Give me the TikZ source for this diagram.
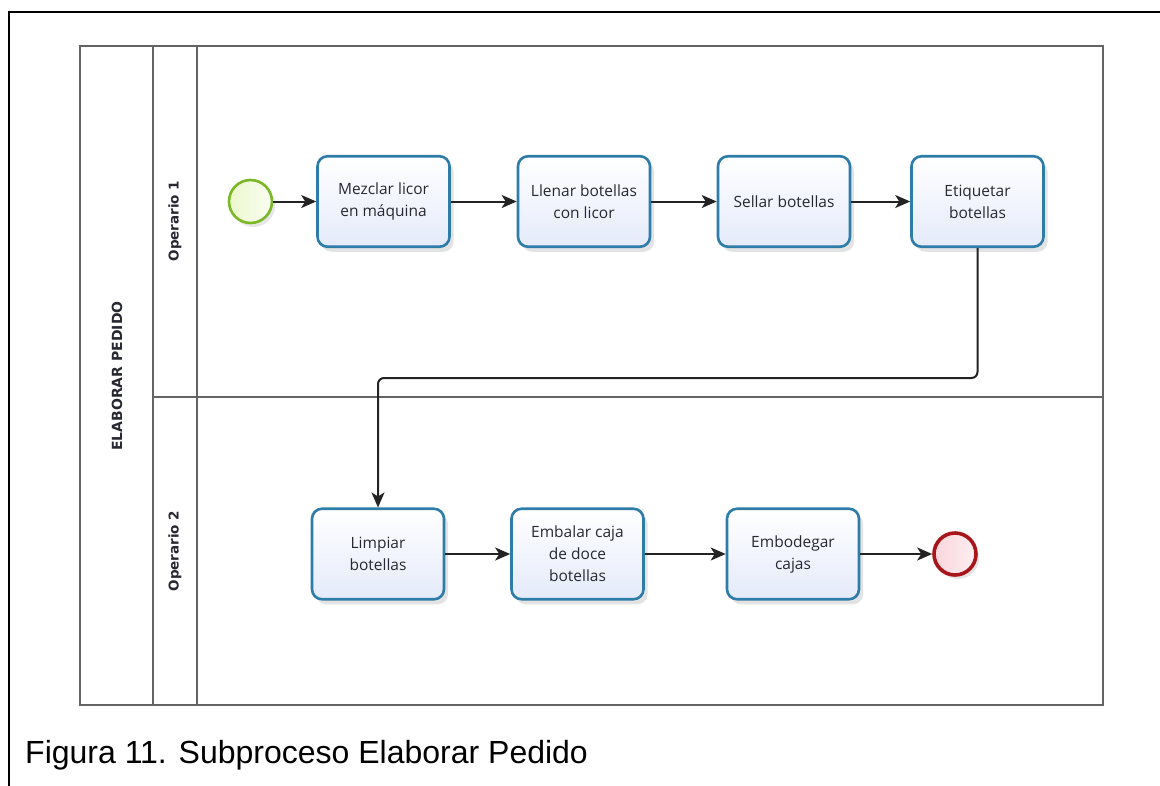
\documentclass[tikz,border=0pt]{standalone}
\usepackage{fontspec}
\setmainfont{Open Sans}
\newfontfamily\capfont{Liberation Sans}
\newfontfamily\lanefont{DejaVu Sans}
\usetikzlibrary{shadows,arrows.meta}

\definecolor{taskblue}{RGB}{46,124,168}
\definecolor{taskfill}{RGB}{228,234,250}
\definecolor{startgreen}{RGB}{122,184,40}
\definecolor{startfill}{RGB}{236,248,206}
\definecolor{endred}{RGB}{168,22,28}
\definecolor{endfill}{RGB}{250,214,220}
\definecolor{linegray}{RGB}{100,100,100}
\definecolor{flowgray}{RGB}{35,35,35}
\definecolor{textdark}{RGB}{40,40,50}

\begin{document}
\begin{tikzpicture}[x=1pt,y=-1pt,
  task/.style={draw=taskblue, line width=2.6pt, rounded corners=10pt,
    minimum width=132pt, minimum height=90.5pt, inner sep=0pt,
    top color=white, bottom color=taskfill, align=center,
    font=\fontsize{15.5}{22}\selectfont, text=textdark,
    drop shadow={opacity=0.22, shadow xshift=4pt, shadow yshift=-5pt}},
  startev/.style={circle, draw=startgreen, line width=2.6pt, minimum size=43pt,
    inner sep=0pt, left color=startfill, right color=white!70!startfill,
    drop shadow={opacity=0.2, shadow xshift=3pt, shadow yshift=-4pt}},
  endev/.style={circle, draw=endred, line width=3.6pt, minimum size=42pt,
    inner sep=0pt, left color=endfill, right color=white!60!endfill,
    drop shadow={opacity=0.2, shadow xshift=3pt, shadow yshift=-4pt}},
  flow/.style={draw=flowgray, line width=2pt,
    -{Stealth[length=15pt,width=13pt,inset=4pt]}},
  poolline/.style={draw=linegray, line width=1.5pt},
  lanelabel/.style={rotate=90, font=\lanefont\bfseries\fontsize{13.5}{16}\selectfont, text=textdark},
  poollabel/.style={rotate=90, font=\lanefont\bfseries\fontsize{14}{16}\selectfont, text=textdark}
]
\useasboundingbox (0,0) rectangle (1160,785);

% outer frame (partially visible)
\draw[line width=2.2pt, line cap=rect] (9,785) -- (9,12) -- (1160,12);

% pool and lanes
\draw[poolline] (80,46) rectangle (1103,705);
\draw[poolline] (153,46) -- (153,705);
\draw[poolline] (197,46) -- (197,705);
\draw[poolline] (153,397) -- (1103,397);

\node[poollabel] (pool) at (117,376) {ELABORAR PEDIDO};
\node[lanelabel] (lane1) at (175,221) {Operario 1};
\node[lanelabel] (lane2) at (175,551) {Operario 2};

% events and tasks
\node[startev] (start) at (250.5,201.5) {};
\node[task] (mez) at (383.5,201.5) {Mezclar licor\\en máquina};
\node[task] (lle) at (584,201.5) {Llenar botellas\\con licor};
\node[task] (sel) at (784,201.5) {Sellar botellas};
\node[task] (eti) at (977.5,201.5) {Etiquetar\\botellas};

\node[task] (lim) at (378,554) {Limpiar\\botellas};
\node[task] (emb) at (577.5,554) {Embalar caja\\de doce\\botellas};
\node[task] (bod) at (793,554) {Embodegar\\cajas};
\node[endev] (fin) at (955,554) {};

% sequence flows
\draw[flow] (start) -- (mez);
\draw[flow] (mez) -- (lle);
\draw[flow] (lle) -- (sel);
\draw[flow] (sel) -- (eti);
\coordinate (turn) at (0,378);
\draw[flow, rounded corners=6pt] (eti.south) -- (eti.south |- turn) -- (lim.north |- turn) -- (lim.north);
\draw[flow] (lim) -- (emb);
\draw[flow] (emb) -- (bod);
\draw[flow] (bod) -- (fin);

% caption
\node[anchor=base west, inner sep=0pt, font=\capfont\fontsize{32}{38}\selectfont] (cap) at (25,763) {Figura 11. Subproceso Elaborar Pedido};
\end{tikzpicture}
\end{document}
